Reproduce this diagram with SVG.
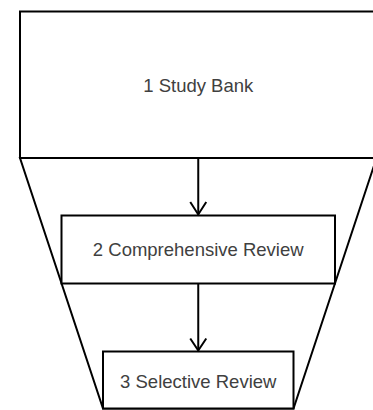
<svg xmlns="http://www.w3.org/2000/svg" width="373" height="410" viewBox="0 0 373 410">
  <defs>
    <style>
      .box { fill: #ffffff; stroke: #000000; stroke-width: 2; }
      .funnel { fill: none; stroke: #000000; stroke-width: 2; stroke-linejoin: miter; }
      .label { font-family: "Liberation Sans", Arial, sans-serif; font-size: 18.5px; fill: #404040; text-anchor: middle; }
      .link { fill: none; stroke: #000000; stroke-width: 2; }
      .head { fill: none; stroke: #000000; stroke-width: 2; stroke-linejoin: miter; }
    </style>
  </defs>

  <rect width="373" height="410" fill="#ffffff"/>

  <!-- funnel outline narrowing from the bank down to the selective review -->
  <g id="funnel">
    <polygon class="funnel" points="20,158 376.5,158 293.5,408.5 103,408.5"/>
  </g>

  <g id="node-study-bank">
    <rect class="box" x="20" y="11.5" width="356.5" height="146.5"/>
    <text class="label" x="198.25" y="91.5">1 Study Bank</text>
  </g>

  <g id="node-comprehensive-review">
    <rect class="box" x="61.5" y="215.5" width="273.5" height="68"/>
    <text class="label" x="198.25" y="256">2 Comprehensive Review</text>
  </g>

  <g id="node-selective-review">
    <rect class="box" x="103" y="351.5" width="190.5" height="57"/>
    <text class="label" x="198.25" y="387.5">3 Selective Review</text>
  </g>

  <g id="connectors">
    <line class="link" x1="198.25" y1="158" x2="198.25" y2="214.5"/>
    <polyline class="head" points="190.25,202 198.25,214.5 206.25,202"/>
    <line class="link" x1="198.25" y1="283.5" x2="198.25" y2="350.5"/>
    <polyline class="head" points="190.25,338.5 198.25,350.5 206.25,338.5"/>
  </g>
</svg>
